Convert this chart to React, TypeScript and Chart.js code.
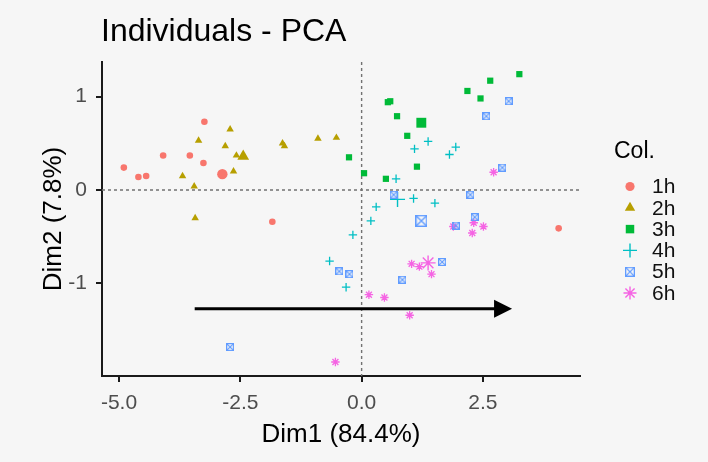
import React, { useEffect, useRef } from 'react';
import { Chart, registerables } from 'chart.js';
import { drawPoint } from 'chart.js/helpers';

Chart.register(...registerables);

// Groups and their colours (ggplot hue palette)
const GROUPS = ['1h', '2h', '3h', '4h', '5h', '6h'];
const COLORS = ['#F8766D', '#B79F00', '#00BA38', '#00BFC4', '#619CFF', '#F564E3'];

// Individual coordinates on Dim1 / Dim2, per group
const X_1H = [-3.24, -4.09, -3.54, -3.26, -4.90, -4.60, -4.44, -1.84, 4.06];
const Y_1H = [0.73, 0.37, 0.37, 0.29, 0.24, 0.14, 0.15, -0.34, -0.41];

const X_2H = [-2.71, -3.36, -2.81, -2.58, -2.64, -3.69, -3.45, -3.43, -1.63, -1.59, -0.90, -0.52];
const Y_2H = [0.65, 0.53, 0.47, 0.37, 0.20, 0.15, 0.04, -0.30, 0.50, 0.47, 0.55, 0.56];

const X_3H = [0.54, 0.59, 0.73, 0.94, -0.26, 1.14, 0.05, 0.50, 3.25, 2.65, 2.18, 2.45];
const Y_3H = [0.94, 0.95, 0.79, 0.58, 0.35, 0.25, 0.18, 0.12, 1.24, 1.17, 1.06, 0.98];

const X_4H = [1.37, 1.09, 1.81, 1.94, 0.71, 1.07, 1.51, 0.30, 0.19, -0.18, -0.66, -0.32];
const Y_4H = [0.52, 0.44, 0.38, 0.46, 0.12, -0.09, -0.14, -0.18, -0.33, -0.48, -0.76, -1.04];

const X_5H = [0.66, 3.03, 2.57, 2.90, 2.24, 2.33, 1.94, -0.46, -0.25, 0.84, 1.66, -2.71];
const Y_5H = [-0.05, 0.95, 0.79, 0.24, -0.05, -0.29, -0.38, -0.87, -0.90, -0.96, -0.77, -1.68];

const X_6H = [2.72, 1.89, 2.31, 2.51, 2.28, 1.03, 1.19, 1.44, 0.15, 0.47, 0.99, -0.54];
const Y_6H = [0.19, -0.39, -0.35, -0.39, -0.46, -0.79, -0.82, -0.90, -1.12, -1.15, -1.34, -1.84];

// Group mean points
const CENTER_X = [-2.87, -2.44, 1.23, 0.74, 1.23, 1.37];
const CENTER_Y = [0.17, 0.36, 0.72, -0.10, -0.33, -0.78];

// Axis ticks
const X_TICKS = [-5, -2.5, 0, 2.5];
const Y_TICKS = [-1, 0, 1];

// Time-direction arrow (data coordinates)
const ARROW_X = [-3.44, 3.10];
const ARROW_Y = [-1.27, -1.27];

const GROUP_X = [X_1H, X_2H, X_3H, X_4H, X_5H, X_6H];
const GROUP_Y = [Y_1H, Y_2H, Y_3H, Y_4H, Y_5H, Y_6H];

const BG = '#f6f6f6';
const FONT = '"Liberation Sans", Arial, Helvetica, sans-serif';

// Open square with an X inside
function makeBoxCross(size: number, color: string, lw: number): HTMLCanvasElement {
  const c = document.createElement('canvas');
  c.width = size;
  c.height = size;
  const ctx = c.getContext('2d')!;
  ctx.strokeStyle = color;
  ctx.lineWidth = lw;
  const p = lw / 2;
  ctx.strokeRect(p, p, size - lw, size - lw);
  ctx.beginPath();
  ctx.moveTo(p, p);
  ctx.lineTo(size - p, size - p);
  ctx.moveTo(size - p, p);
  ctx.lineTo(p, size - p);
  ctx.stroke();
  return c;
}

export default function App() {
  const ref = useRef<HTMLCanvasElement>(null);

  useEffect(() => {
    const boxSmall = makeBoxCross(8, COLORS[4], 1.2);
    const boxBig = makeBoxCross(12, COLORS[4], 1.4);
    const boxLegend = makeBoxCross(10, COLORS[4], 1.3);

    const styles: any[] = ['circle', 'triangle', 'rect', 'cross', boxSmall, 'star'];
    const bigStyles: any[] = ['circle', 'triangle', 'rect', 'cross', boxBig, 'star'];
    const legendStyles: any[] = ['circle', 'triangle', 'rect', 'cross', boxLegend, 'star'];
    const radius = [3.3, 4.3, 4.4, 4.2, 4, 4.2];
    const bigRadius = [5.2, 6.8, 7, 7.5, 6, 7.5];
    const legendRadius = [4.6, 6, 6, 7, 5, 6.5];
    const strokeOnly = [false, false, false, true, true, true];

    const individuals = GROUPS.map((g, i) => ({
      label: g,
      data: GROUP_X[i].map((x, k) => ({ x, y: GROUP_Y[i][k] })),
      pointStyle: styles[i],
      pointRadius: radius[i],
      backgroundColor: COLORS[i],
      borderColor: COLORS[i],
      borderWidth: strokeOnly[i] ? 1.3 : 0,
    }));
    const centers = GROUPS.map((g, i) => ({
      label: g + ' mean',
      data: [{ x: CENTER_X[i], y: CENTER_Y[i] }],
      pointStyle: bigStyles[i],
      pointRadius: bigRadius[i],
      backgroundColor: COLORS[i],
      borderColor: COLORS[i],
      borderWidth: strokeOnly[i] ? 1.4 : 0,
    }));

    const refLines = {
      id: 'refLines',
      beforeDatasetsDraw(chart: any) {
        const { ctx, chartArea, scales } = chart;
        const x0 = scales.x.getPixelForValue(0);
        const y0 = scales.y.getPixelForValue(0);
        ctx.save();
        ctx.strokeStyle = '#727272';
        ctx.lineWidth = 1.4;
        ctx.setLineDash([3, 3]);
        ctx.beginPath();
        ctx.moveTo(x0, chartArea.top);
        ctx.lineTo(x0, chartArea.bottom);
        ctx.moveTo(chartArea.left, y0);
        ctx.lineTo(chartArea.right, y0);
        ctx.stroke();
        ctx.restore();
      },
    };

    const arrow = {
      id: 'arrow',
      afterDatasetsDraw(chart: any) {
        const { ctx, scales } = chart;
        const x1 = scales.x.getPixelForValue(ARROW_X[0]);
        const y1 = scales.y.getPixelForValue(ARROW_Y[0]);
        const x2 = scales.x.getPixelForValue(ARROW_X[1]);
        const y2 = scales.y.getPixelForValue(ARROW_Y[1]);
        const ang = Math.atan2(y2 - y1, x2 - x1);
        const headLen = 18;
        const headHalf = 9;
        const bx = x2 - headLen * Math.cos(ang);
        const by = y2 - headLen * Math.sin(ang);
        ctx.save();
        ctx.strokeStyle = '#000';
        ctx.fillStyle = '#000';
        ctx.lineWidth = 3;
        ctx.beginPath();
        ctx.moveTo(x1, y1);
        ctx.lineTo(bx + Math.cos(ang), by + Math.sin(ang));
        ctx.stroke();
        ctx.beginPath();
        ctx.moveTo(x2, y2);
        ctx.lineTo(bx - headHalf * Math.sin(ang), by + headHalf * Math.cos(ang));
        ctx.lineTo(bx + headHalf * Math.sin(ang), by - headHalf * Math.cos(ang));
        ctx.closePath();
        ctx.fill();
        ctx.restore();
      },
    };

    const decorations = {
      id: 'decorations',
      afterDraw(chart: any) {
        const { ctx, chartArea } = chart;
        ctx.save();
        // plot title
        ctx.fillStyle = '#000';
        ctx.textAlign = 'left';
        ctx.textBaseline = 'alphabetic';
        ctx.font = `32px ${FONT}`;
        ctx.fillText('Individuals - PCA', chartArea.left - 1, 40.5);
        // legend
        const lx = chartArea.right + 42;
        ctx.font = `23px ${FONT}`;
        ctx.fillText('Col.', lx - 8, 157.5);
        ctx.font = `21px ${FONT}`;
        ctx.textBaseline = 'middle';
        GROUPS.forEach((g, i) => {
          const y = 186.5 + i * 21.3;
          ctx.fillStyle = COLORS[i];
          ctx.strokeStyle = COLORS[i];
          ctx.lineWidth = 1.4;
          drawPoint(ctx, {
            pointStyle: legendStyles[i],
            radius: legendRadius[i],
            rotation: 0,
            borderWidth: strokeOnly[i] ? 1.4 : 0,
          } as any, lx + 8, y);
          ctx.fillStyle = '#111';
          ctx.fillText(g, lx + 30, y + 1);
        });
        ctx.restore();
      },
    };

    const chart = new Chart(ref.current!, {
      type: 'scatter',
      data: { datasets: [...individuals, ...centers] as any },
      options: {
        animation: false,
        responsive: false,
        events: [],
        layout: { padding: { top: 62, right: 128, bottom: 0, left: 0 } },
        plugins: { legend: { display: false }, tooltip: { enabled: false }, title: { display: false } },
        scales: {
          x: {
            type: 'linear',
            min: -5.35,
            max: 4.5,
            afterBuildTicks: (s: any) => {
              s.ticks = X_TICKS.map((v) => ({ value: v }));
            },
            afterFit: (s: any) => {
              s.height = 86;
            },
            border: { display: true, color: '#1a1a1a', width: 2 },
            grid: { display: true, drawOnChartArea: false, drawTicks: true, tickLength: 6, color: '#1a1a1a', lineWidth: 2 },
            ticks: {
              color: '#4d4d4d',
              font: { size: 21, family: FONT },
              padding: 9,
              maxRotation: 0,
              callback: (v: any) => Number(v).toFixed(1),
            },
            title: {
              display: true,
              text: 'Dim1 (84.4%)',
              color: '#000',
              font: { size: 26, family: FONT },
              padding: { top: 0, bottom: 12 },
            },
          },
          y: {
            type: 'linear',
            min: -1.99,
            max: 1.37,
            afterBuildTicks: (s: any) => {
              s.ticks = Y_TICKS.map((v) => ({ value: v }));
            },
            afterFit: (s: any) => {
              s.width = 102;
            },
            border: { display: true, color: '#1a1a1a', width: 2 },
            grid: { display: true, drawOnChartArea: false, drawTicks: true, tickLength: 6, color: '#1a1a1a', lineWidth: 2 },
            ticks: {
              color: '#4d4d4d',
              font: { size: 21, family: FONT },
              padding: 9,
              callback: (v: any) => String(v),
            },
            title: {
              display: true,
              text: 'Dim2 (7.8%)',
              color: '#000',
              font: { size: 26, family: FONT },
              padding: { top: 38, bottom: 0 },
            },
          },
        },
      },
      plugins: [refLines, arrow, decorations],
    });
    return () => chart.destroy();
  }, []);

  return (
    <div style={{ width: 708, height: 462, background: BG }}>
      <style>{`html,body{margin:0;padding:0;background:${BG};}`}</style>
      <canvas ref={ref} width={708} height={462} style={{ display: 'block', width: 708, height: 462 }} />
    </div>
  );
}
